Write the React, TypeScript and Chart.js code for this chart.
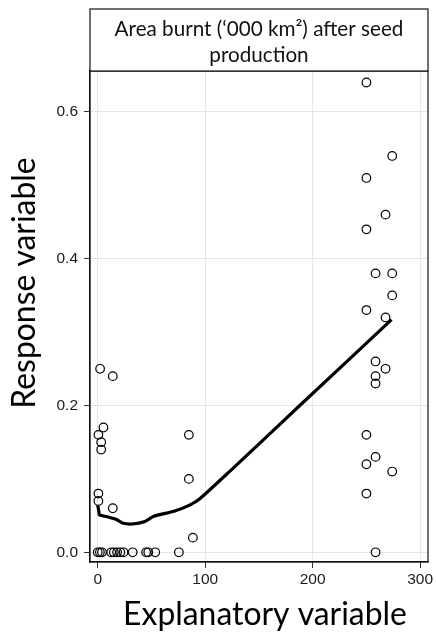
import { useEffect, useRef } from "react";
import { Chart, registerables } from "chart.js";

Chart.register(...registerables);

// Axis ticks
const xTicks = [0, 100, 200, 300];
const yTicks = [0, 0.2, 0.4, 0.6];

// Observations: explanatory value and response value
const obsX = [
  0, 2, 4, 12.5, 15, 18, 21, 24, 32.5, 45, 47, 53.5, 75.5,
  0.6, 3.2, 3.2, 5.3, 2.2, 14, 0.6, 0.6, 14,
  84.8, 84.8, 88.5,
  250, 250, 250, 250, 250, 250, 250,
  258.5, 258.5, 258.5, 258.5, 258.5, 258.5,
  267.8, 267.8, 267.8,
  274, 274, 274, 274,
];
const obsY = [
  0, 0, 0, 0, 0, 0, 0, 0, 0, 0, 0, 0, 0,
  0.16, 0.15, 0.14, 0.17, 0.25, 0.24, 0.08, 0.07, 0.06,
  0.16, 0.1, 0.02,
  0.64, 0.51, 0.44, 0.33, 0.16, 0.12, 0.08,
  0.38, 0.26, 0.24, 0.23, 0.13, 0,
  0.46, 0.32, 0.25,
  0.54, 0.38, 0.35, 0.11,
];

// Smoothed trend
const fitX = [0, 1, 1.6, 10, 17, 23, 32, 44, 52, 71, 85, 95, 122.6, 188, 273.4];
const fitY = [0.064, 0.056, 0.051, 0.048, 0.045, 0.04, 0.0386, 0.042, 0.049, 0.056, 0.064, 0.073, 0.11, 0.2, 0.317];

const stripLines = ["Area burnt (\u2018000 km\u00b2) after seed", "production"];
const xTitle = "Explanatory variable";
const yTitle = "Response variable";

const TITLE_FONT = "Lato, 'Open Sans', sans-serif";
const TICK_FONT = "'Liberation Sans', Arial, sans-serif";

function fitFont(ctx: CanvasRenderingContext2D, text: string, width: number) {
  ctx.font = `100px ${TITLE_FONT}`;
  const w = ctx.measureText(text).width;
  return (100 * width) / w;
}

const panelDecor = {
  id: "panelDecor",
  afterDraw(chart: any) {
    const { ctx, chartArea } = chart;
    const { left, right, top, bottom } = chartArea;
    ctx.save();
    // panel frame
    ctx.strokeStyle = "#111";
    ctx.lineWidth = 1.2;
    ctx.strokeRect(left, top, right - left, bottom - top);

    // strip header
    const stripTop = 9;
    ctx.fillStyle = "#fff";
    ctx.fillRect(left, stripTop, right - left, top - stripTop);
    ctx.strokeRect(left, stripTop, right - left, top - stripTop);
    const cx = (left + right) / 2;
    const stripSize = fitFont(ctx, stripLines[0], 289);
    ctx.font = `${stripSize}px ${TITLE_FONT}`;
    ctx.fillStyle = "#111";
    ctx.textAlign = "center";
    ctx.textBaseline = "alphabetic";
    ctx.fillText(stripLines[0], cx, 36);
    ctx.fillText(stripLines[1], cx, 62);

    // axis titles
    const titleSize = fitFont(ctx, xTitle, 284);
    ctx.font = `${titleSize}px ${TITLE_FONT}`;
    ctx.fillStyle = "#000";
    ctx.fillText(xTitle, 265, 625);
    ctx.translate(35, 283);
    ctx.rotate(-Math.PI / 2);
    ctx.fillText(yTitle, 0, 0);
    ctx.restore();
  },
};

export default function App() {
  const ref = useRef<HTMLCanvasElement>(null);

  useEffect(() => {
    if (!ref.current) return;
    const chart = new Chart(ref.current, {
      type: "scatter",
      data: {
        datasets: [
          {
            type: "line",
            data: fitX.map((x, i) => ({ x, y: fitY[i] })),
            borderColor: "#000",
            borderWidth: 3.2,
            pointRadius: 0,
            tension: 0.2,
            fill: false,
            order: 0,
          } as any,
          {
            data: obsX.map((x, i) => ({ x, y: obsY[i] })),
            backgroundColor: "rgba(0,0,0,0)",
            borderColor: "#000",
            borderWidth: 1.2,
            pointRadius: 4.3,
            order: 1,
          },
        ],
      },
      options: {
        responsive: false,
        animation: false,
        devicePixelRatio: 1,
        layout: { padding: { top: 71, right: 8, left: 0, bottom: 0 } },
        plugins: { legend: { display: false }, tooltip: { enabled: false } },
        scales: {
          x: {
            type: "linear",
            min: -7.2,
            max: 307.3,
            afterBuildTicks: (s: any) => {
              s.ticks = xTicks.map((v) => ({ value: v }));
            },
            afterFit: (s: any) => {
              s.height = 75;
            },
            ticks: {
              callback: (v: any) => String(v),
              font: { family: TICK_FONT, size: 15.5 },
              color: "#1a1a1a",
              padding: 2,
              maxRotation: 0,
            },
            grid: { color: "#e6e6e6", lineWidth: 1, tickColor: "#333", tickLength: 6 },
            border: { display: true, color: "#111", width: 1.2 },
          },
          y: {
            type: "linear",
            min: -0.0132,
            max: 0.6557,
            afterBuildTicks: (s: any) => {
              s.ticks = yTicks.map((v) => ({ value: v }));
            },
            afterFit: (s: any) => {
              s.width = 90;
            },
            ticks: {
              callback: (v: any) => Number(v).toFixed(1),
              font: { family: TICK_FONT, size: 15.5 },
              color: "#1a1a1a",
              padding: 6,
            },
            grid: { color: "#e6e6e6", lineWidth: 1, tickColor: "#333", tickLength: 6 },
            border: { display: true, color: "#111", width: 1.2 },
          },
        },
      },
      plugins: [panelDecor],
    });
    return () => chart.destroy();
  }, []);

  return (
    <div style={{ position: "absolute", left: 0, top: 0, width: 436, height: 637, background: "#fff" }}>
      <canvas ref={ref} width={436} height={637} style={{ display: "block", width: 436, height: 637 }} />
    </div>
  );
}
